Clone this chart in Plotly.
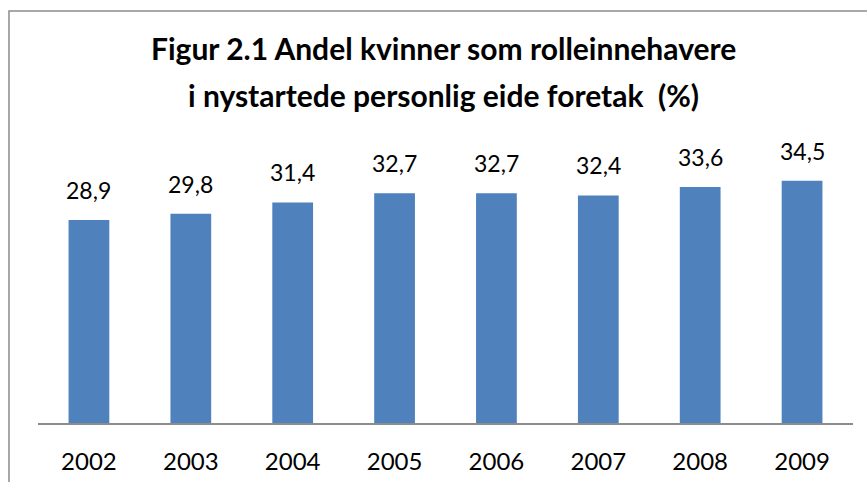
import plotly.graph_objects as go

years = ["2002", "2003", "2004", "2005", "2006", "2007", "2008", "2009"]
shares = [28.9, 29.8, 31.4, 32.7, 32.7, 32.4, 33.6, 34.5]
title_lines = ["Figur 2.1 Andel kvinner som rolleinnehavere", "i nystartede personlig eide foretak  (%)"]

FONT = "Lato"
fig = go.Figure()
fig.add_trace(go.Bar(x=years, y=shares, marker=dict(color="#4F81BD", line=dict(width=0)),
                     hoverinfo="x+y"))

for i, v in enumerate(shares):
    fig.add_annotation(x=i, y=v, text=f"{v:.1f}".replace(".", ","), showarrow=False,
                       yanchor="bottom", yshift=14, font=dict(family=FONT, size=23, color="#000"))

for line, py in zip(title_lines, [1.336, 1.167]):
    fig.add_annotation(xref="paper", yref="paper", x=0.497, y=py, xanchor="center", yanchor="middle",
                       text="<b>" + line + "</b>", showarrow=False,
                       font=dict(family=FONT, size=30, color="#000"))

fig.update_layout(
    width=867, height=482,
    margin=dict(l=38, r=14, t=142, b=59),
    paper_bgcolor="white", plot_bgcolor="white",
    bargap=0.6,
    showlegend=False,
    xaxis=dict(type="category", range=[-0.5, len(years) - 0.5], automargin=False, showgrid=False,
               showline=True, linecolor="#8c8c8c", linewidth=1.5,
               ticks="", ticklabelstandoff=16, tickfont=dict(family=FONT, size=24, color="#000")),
    yaxis=dict(range=[0, 40], visible=False, automargin=False),
    shapes=[dict(type="rect", xref="paper", yref="paper", x0=-0.0356, x1=1.2, y0=-0.5, y1=1.466,
                 line=dict(color="#8c8c8c", width=1.5), fillcolor="rgba(0,0,0,0)", layer="below")],
)
fig.write_html("out.html", config={"displayModeBar": False},
               post_script="document.body.style.margin='0';document.body.style.overflow='hidden';")
